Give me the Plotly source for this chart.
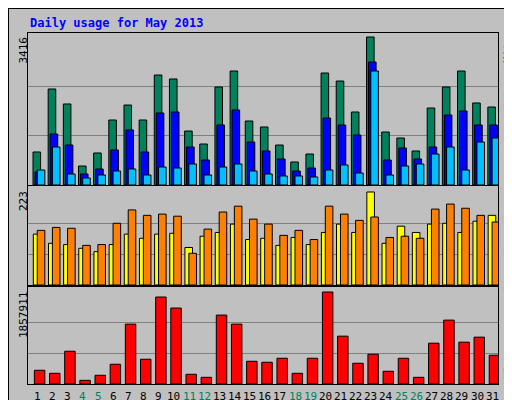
import plotly.graph_objects as go

days = list(range(1, 32))
weekend = {4, 5, 11, 12, 18, 19, 25, 26}
hits = [762,2216,1870,438,739,1500,1846,1500,2539,2447,1246,946,2262,2631,1477,1339,923,531,715,2585,2400,1685,3416,1223,1085,785,1777,2262,2631,1893,1800]
files = [300,1177,923,254,369,808,1270,762,1662,1685,877,577,1385,1731,992,785,600,323,392,1546,1385,1154,2839,577,854,600,877,1616,1708,1385,1385]
pages = [346,877,254,162,231,323,369,231,415,392,485,231,415,485,323,254,208,208,185,346,462,277,2631,231,438,485,715,877,346,992,1085]
visits = [122,100,97,88,80,97,122,112,122,124,90,117,126,146,109,112,95,114,97,126,146,126,223,100,141,126,146,148,126,153,167]
sites = [131,138,136,95,97,148,180,167,170,165,76,134,175,189,158,146,119,131,109,189,170,155,163,114,117,112,182,194,184,167,151]
kbytes = [277000,216000,662000,74000,176000,399000,1209000,500000,1757000,1534000,196000,135000,1392000,1209000,459000,439000,520000,216000,520000,1857911,966000,419000,601000,257000,520000,135000,824000,1290000,845000,946000,581000]
max_hits, max_visits, max_kb = 3416, 223, 1857911

fig = go.Figure()
line = dict(color="black", width=1)
def bar(y, color, off, w, ax):
    fig.add_trace(go.Bar(x=days, y=y, marker=dict(color=color, line=line), offset=off, width=w,
                         xaxis=ax[0], yaxis=ax[1], hoverinfo="skip"))
bar(hits, "#00805C", -0.17, 0.5, ("x", "y"))
bar(files, "#0000FF", -0.04, 0.5, ("x", "y"))
bar(pages, "#00C0FF", 0.11, 0.5, ("x", "y"))
bar(visits, "#FFFF00", -0.15, 0.5, ("x2", "y2"))
bar(sites, "#FF8000", 0.11, 0.5, ("x2", "y2"))
bar(kbytes, "#FF0000", -0.08, 0.69, ("x3", "y3"))

xd = [20/512, 490/512]
ax_common = dict(range=[0.5, 31.5], domain=xd, showline=True, linecolor="black", mirror=True,
                 showgrid=False, zeroline=False, fixedrange=True, showticklabels=False, ticks="")
fig.update_layout(
    xaxis=dict(**ax_common, anchor="y"),
    xaxis2=dict(**ax_common, anchor="y2"),
    xaxis3=dict(**ax_common, anchor="y3"),
)
def yax(dom, mx, panel_px, bar_px, anchor):
    top = mx * panel_px / bar_px
    return dict(domain=dom, range=[0, top], anchor=anchor, showline=True, linecolor="black", mirror=True,
                tickvals=[mx/3, 2*mx/3], showticklabels=False, ticks="", showgrid=True,
                gridcolor="#808080", gridwidth=1, zeroline=False, fixedrange=True)
fig.update_layout(
    yaxis=yax([1-177/400, 1-25/400], max_hits, 152, 148, "x"),
    yaxis2=yax([1-277/400, 1-178/400], max_visits, 99, 93, "x2"),
    yaxis3=yax([1-376/400, 1-279/400], max_kb, 97, 92, "x3"),
)
mono = "DejaVu Sans Mono"
ann = []
for d in days:
    ann.append(dict(xref="x3", yref="paper", x=d + 0.12, y=1-388/400, text=str(d), xanchor="center", yanchor="middle",
                    font=dict(family=mono, size=11, color="#00805C" if d in weekend else "black")))
P = lambda x, y, **k: dict(xref="paper", yref="paper", x=x/512, y=1-y/400, **k)
ann += [
    P(20, 15, text="<b>Daily usage for May 2013</b>", xanchor="left", yanchor="middle",
      font=dict(family=mono, size=12, color="#0000FF")),
    P(15, 27, text=str(max_hits), textangle=-90, xanchor="center", yanchor="top", font=dict(family=mono, size=11, color="black")),
    P(15, 181, text=str(max_visits), textangle=-90, xanchor="center", yanchor="top", font=dict(family=mono, size=11, color="black")),
    P(15, 282, text=str(max_kb), textangle=-90, xanchor="center", yanchor="top", font=dict(family=mono, size=11, color="black")),
]
def stack(pieces, y0):
    y = y0
    for txt, col in pieces:
        h = len(txt) * 7
        ann.append(P(500, y + h/2, text=txt, textangle=-90, xanchor="center", yanchor="middle",
                     font=dict(family=mono, size=11, color=col)))
        y += h + 3
stack([("Hits", "#00805C"), ("/", "black"), ("Files", "#0000FF"), ("/", "black"), ("Pages", "#00C0FF")], 28)
stack([("Visits", "#FFFF00"), ("/", "black"), ("Sites", "#FF8000")], 196)
stack([("KBytes", "#FF0000")], 330)
fig.update_layout(annotations=[dict(showarrow=False, **a) for a in ann])
fig.update_layout(
    shapes=[
        dict(type="rect", xref="paper", yref="paper", x0=0, y0=0, x1=1, y1=1, line=dict(color="black", width=2), layer="below"),
        dict(type="line", xref="paper", yref="paper", x0=4/512, y0=4/400, x1=508/512, y1=4/400, line=dict(color="#808080", width=2)),
        dict(type="line", xref="paper", yref="paper", x0=508/512, y0=4/400, x1=508/512, y1=396/400, line=dict(color="#808080", width=2)),
    ],
    barmode="overlay", showlegend=False, width=512, height=400,
    margin=dict(l=0, r=0, t=0, b=0), paper_bgcolor="#C0C0C0", plot_bgcolor="#C0C0C0",
)
fig.write_html("out.html")
